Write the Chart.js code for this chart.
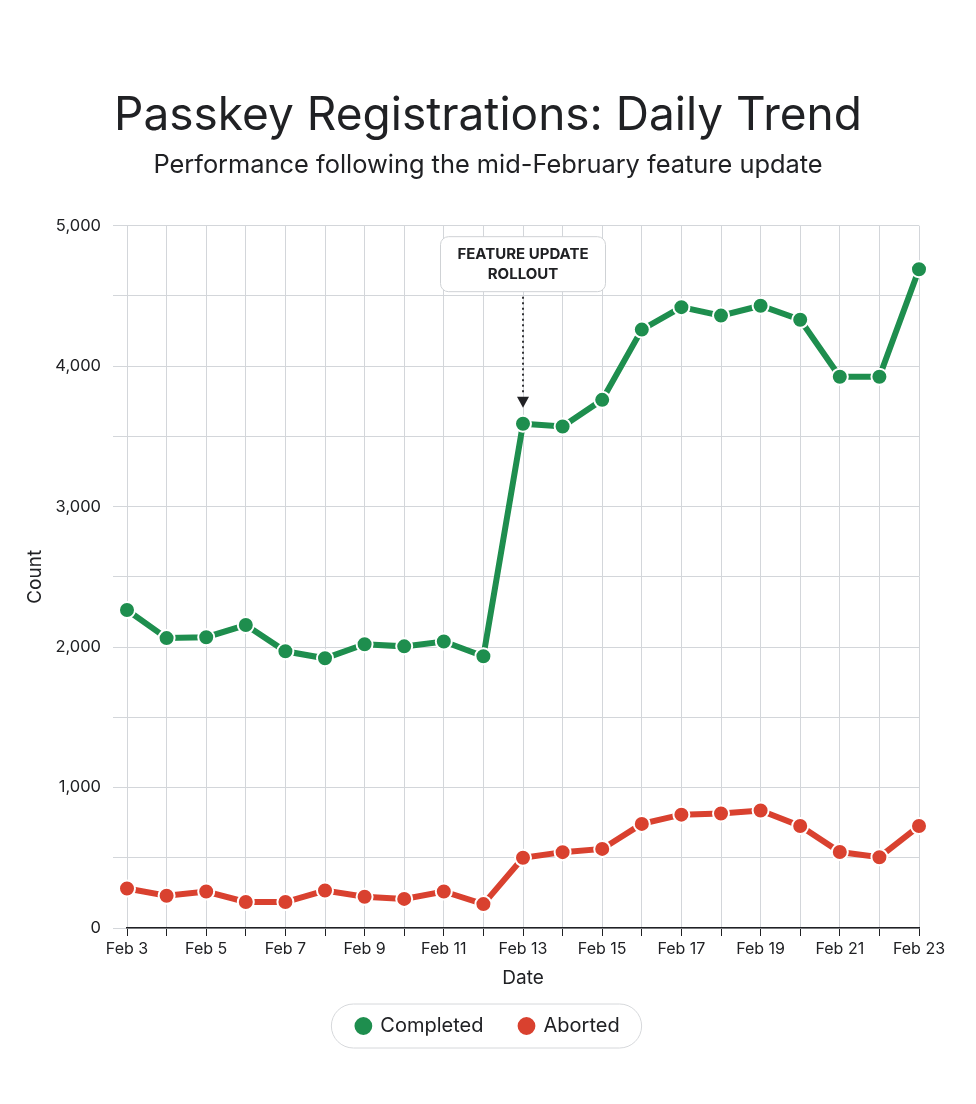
<!DOCTYPE html>
<html>
<head>
<meta charset="utf-8">
<script src="https://cdn.jsdelivr.net/npm/chart.js@4.4.1/dist/chart.umd.min.js"></script>
<style>
  html, body { margin: 0; padding: 0; background: #fff; }
  #wrap { width: 976px; height: 1104px; }
</style>
</head>
<body>
<div id="wrap"><canvas id="chart"></canvas></div>
<script>
const days = ['Feb 3', 'Feb 4', 'Feb 5', 'Feb 6', 'Feb 7', 'Feb 8', 'Feb 9', 'Feb 10', 'Feb 11', 'Feb 12',
  'Feb 13', 'Feb 14', 'Feb 15', 'Feb 16', 'Feb 17', 'Feb 18', 'Feb 19', 'Feb 20', 'Feb 21', 'Feb 22', 'Feb 23']
const completed = [2264, 2064, 2070, 2157, 1970, 1920, 2020, 2005, 2040, 1935,
  3590, 3570, 3760, 4260, 4420, 4360, 4430, 4330, 3925, 3925, 4690]
const aborted = [281, 230, 260, 185, 185, 267, 222, 207, 260, 170,
  500, 540, 563, 741, 807, 815, 837, 726, 541, 504, 726]
const rolloutDay = 'Feb 13'
const rolloutText = ['FEATURE UPDATE', 'ROLLOUT']

const ink = '#202124'
const green = '#1e8e4e'
const red = '#d9412f'
const gridGray = '#d3d6da'
const font = 'Inter, "Open Sans", sans-serif'

Chart.defaults.font.family = font
Chart.defaults.color = ink

// rollout callout with dotted arrow
const rolloutMarker = {
  id: 'rolloutMarker',
  afterDatasetsDraw(chart) {
    const { ctx, chartArea, scales } = chart
    const x = scales.x.getPixelForValue(days.indexOf(rolloutDay))
    const w = 165, h = 55
    const top = chartArea.top + 11
    ctx.save()
    ctx.fillStyle = '#fff'
    ctx.strokeStyle = '#cfd2d5'
    ctx.lineWidth = 1
    ctx.beginPath()
    ctx.roundRect(x - w / 2, top, w, h, 8)
    ctx.fill()
    ctx.stroke()
    ctx.fillStyle = ink
    ctx.font = 'bold 15px ' + font
    ctx.textAlign = 'center'
    ctx.textBaseline = 'middle'
    ctx.fillText(rolloutText[0], x, top + 18)
    ctx.fillText(rolloutText[1], x, top + 38)
    // dotted line
    const yPoint = scales.y.getPixelForValue(completed[days.indexOf(rolloutDay)])
    ctx.strokeStyle = ink
    ctx.lineWidth = 1.8
    ctx.setLineDash([2, 3.5])
    ctx.beginPath()
    ctx.moveTo(x, top + h + 5)
    ctx.lineTo(x, yPoint - 28)
    ctx.stroke()
    ctx.setLineDash([])
    ctx.beginPath()
    ctx.moveTo(x - 6, yPoint - 27)
    ctx.lineTo(x + 6, yPoint - 27)
    ctx.lineTo(x, yPoint - 16)
    ctx.closePath()
    ctx.fill()
    ctx.restore()
  }
}

// rounded pill round the legend
const legendPill = {
  id: 'legendPill',
  afterDraw(chart) {
    const boxes = chart.legend.legendHitBoxes
    if (!boxes || !boxes.length) return
    const { ctx } = chart
    const left = Math.min(...boxes.map(b => b.left)) - 25
    const right = Math.max(...boxes.map(b => b.left + b.width)) + 22
    const cy = boxes[0].top + boxes[0].height / 2
    const h = 44
    ctx.save()
    ctx.strokeStyle = '#d6d8db'
    ctx.lineWidth = 1
    ctx.beginPath()
    ctx.roundRect(left, cy - h / 2, right - left, h, h / 2)
    ctx.stroke()
    ctx.restore()
  }
}

new Chart(document.getElementById('chart'), {
  type: 'line',
  data: {
    labels: days,
    datasets: [
      {
        label: 'Completed',
        data: completed,
        borderColor: green,
        backgroundColor: green,
        borderWidth: 6,
        pointRadius: 8,
        pointBorderColor: '#fff',
        pointBorderWidth: 2,
        pointBackgroundColor: green,
        tension: 0
      },
      {
        label: 'Aborted',
        data: aborted,
        borderColor: red,
        backgroundColor: red,
        borderWidth: 6,
        pointRadius: 8,
        pointBorderColor: '#fff',
        pointBorderWidth: 2,
        pointBackgroundColor: red,
        tension: 0
      }
    ]
  },
  options: {
    responsive: true,
    maintainAspectRatio: false,
    animation: false,
    layout: { padding: { top: 0, bottom: 58, left: 10, right: 10 } },
    plugins: {
      title: {
        display: true,
        text: 'Passkey Registrations: Daily Trend',
        font: { size: 46, weight: 'normal' },
        color: ink,
        padding: { top: 89, bottom: 0 }
      },
      subtitle: {
        display: true,
        text: 'Performance following the mid-February feature update',
        font: { size: 25.4 },
        color: ink,
        padding: { top: 6, bottom: 45 }
      },
      legend: {
        position: 'bottom',
        labels: {
          usePointStyle: true,
          pointStyle: 'circle',
          boxWidth: 14,
          boxHeight: 14,
          padding: 36,
          font: { size: 20 },
          color: ink
        }
      },
      tooltip: { enabled: false }
    },
    scales: {
      x: {
        grid: { color: gridGray, tickColor: ink, tickLength: 8 },
        border: { display: true, color: ink, width: 1.5 },
        ticks: {
          autoSkip: false,
          maxRotation: 0,
          font: { size: 16 },
          color: ink,
          padding: 4,
          callback: (v, i) => (i % 2 === 0 ? days[i] : '')
        },
        title: { display: true, text: 'Date', font: { size: 19 }, color: ink, padding: { top: 4, bottom: -10 } },
        afterFit: axis => { axis.paddingRight = 57 }
      },
      y: {
        min: 0,
        max: 5000,
        grid: { color: gridGray, tickLength: 14 },
        border: { display: false },
        ticks: {
          stepSize: 500,
          font: { size: 16.5 },
          color: ink,
          padding: 12,
          callback: v => (v % 1000 === 0 ? v.toLocaleString('en-US') : '')
        },
        title: { display: true, text: 'Count', font: { size: 19 }, color: ink, padding: { top: 14, bottom: 0 } },
        afterFit: axis => { axis.width = 117 }
      }
    }
  },
  plugins: [rolloutMarker, legendPill]
})
</script>
</body>
</html>
